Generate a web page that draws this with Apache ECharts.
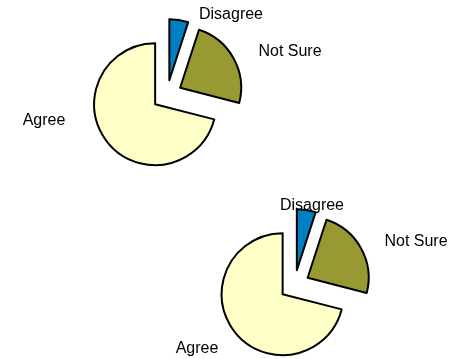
<!DOCTYPE html>
<html>
<head>
<meta charset="utf-8">
<script src="https://cdn.jsdelivr.net/npm/echarts@6/dist/echarts.min.js"></script>
<style>
  html, body { margin: 0; padding: 0; background: #fff; }
  #chartData { width: 455px; height: 359px; }
</style>
</head>
<body>
<div id="chartData"></div>
<script>
var categories = ['Disagree', 'Not Sure', 'Agree'];
var topValues = [5, 24, 71];
var bottomValues = [5, 24, 71];
var sliceColors = ['#0080c0', '#999933', '#ffffc8'];

// label anchor points (pixels, text centre), one per category
var topLabelPos = [[231, 15], [290, 52], [44, 121]];
var bottomLabelPos = [[312, 206], [416, 242], [197, 349]];

var myChart = echarts.init(document.getElementById('chartData'));

function makeData(values) {
    return categories.map(function (name, i) {
        return {
            name: name,
            value: values[i],
            selected: true,
            itemStyle: { color: sliceColors[i] }
        };
    });
}

function makeSeries(values, center) {
    return {
        type: 'pie',
        center: center,
        radius: 61,
        startAngle: 90,
        clockwise: true,
        selectedMode: 'multiple',
        selectedOffset: 15,
        silent: true,
        animation: false,
        itemStyle: { borderColor: '#000', borderWidth: 2 },
        label: { show: false },
        labelLine: { show: false },
        data: makeData(values)
    };
}

// category names drawn as plain text next to each pie
function makeLabels(labelPos) {
    return categories.map(function (name, i) {
        return {
            type: 'text',
            x: labelPos[i][0],
            y: labelPos[i][1],
            silent: true,
            style: {
                text: name,
                fill: '#000',
                font: '16px "Liberation Sans", Arial, sans-serif',
                align: 'center',
                verticalAlign: 'middle'
            }
        };
    });
}

var option = {
    animation: false,
    graphic: makeLabels(topLabelPos).concat(makeLabels(bottomLabelPos)),
    series: [
        makeSeries(topValues, [167, 95]),
        makeSeries(bottomValues, [294.5, 285])
    ]
};

myChart.setOption(option);
</script>
</body>
</html>
